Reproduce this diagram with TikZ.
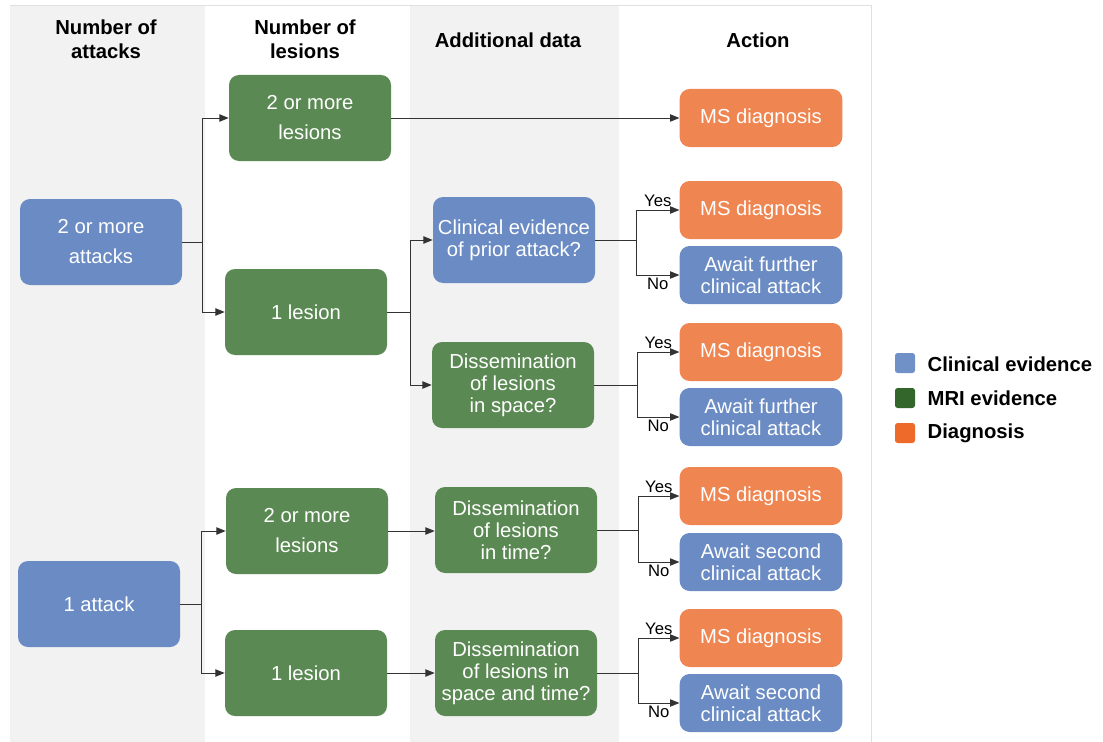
\documentclass[tikz,border=0pt]{standalone}
\usepackage{fontspec}
\setmainfont{Liberation Sans}
\usepackage{tikz}
\usetikzlibrary{arrows.meta}
\usepackage{xcolor}

\definecolor{clinblue}{HTML}{6A8BC3}
\definecolor{mrigreen}{HTML}{5B8953}
\definecolor{diagorange}{HTML}{EF8550}
\definecolor{keyblue}{HTML}{7090C8}
\definecolor{keygreen}{HTML}{33662B}
\definecolor{keyorange}{HTML}{EE6A2A}
\definecolor{colgray}{HTML}{F2F2F2}

\tikzset{
  box/.style={rounded corners=7.5pt, text=white, align=center, inner sep=0pt,
    font=\fontsize{15.2pt}{16.5pt}\selectfont},
  bigbox/.style={box, minimum width=121.5pt, minimum height=64.5pt},
  actbox/.style={box, minimum width=122pt, minimum height=43.5pt},
  clin/.style={fill=clinblue},
  mri/.style={fill=mrigreen},
  diag/.style={fill=diagorange},
  head/.style={align=center, font=\bfseries\fontsize{15.2pt}{18pt}\selectfont},
  conn/.style={draw=black!80, line width=0.75pt, -{Triangle[length=7pt,width=5.5pt]}},
  yes/.style={pos=0.75, above=1pt, inner sep=1pt, font=\fontsize{12.5pt}{12.5pt}\selectfont},
  no/.style={pos=0.75, below=1pt, inner sep=1pt, font=\fontsize{12.5pt}{12.5pt}\selectfont},
  keytext/.style={anchor=west, font=\bfseries\fontsize{15.2pt}{16pt}\selectfont}
}

\begin{document}
\begin{tikzpicture}[x=0.75pt,y=0.75pt,yscale=-1,xscale=1]
\useasboundingbox (0,0) rectangle (1103,742);

%Shape: columns
\fill[white] (0,0) rectangle (1103,742);
\fill[colgray] (10,5) rectangle (205,742);
\fill[colgray] (410,5) rectangle (619,742);
\draw[black!12] (10,5) -- (871,5) -- (871,742);

% Text Node: headers
\node[head] (h1) at (106,39) {Number of\\attacks};
\node[head] (h2) at (305,39) {Number of\\lesions};
\node[head] (h3) at (508,40) {Additional data};
\node[head] (h4) at (758,40) {Action};

%Shape: attacks
\node[bigbox, clin] (a2) at (101,242) {2 or more\\[6pt]attacks};
\node[bigbox, clin] (a1) at (99,604) {1 attack};

%Shape: lesions
\node[bigbox, mri] (les2a) at (310,118) {2 or more\\[6pt]lesions};
\node[bigbox, mri] (les1a) at (306,312) {1 lesion};
\node[bigbox, mri] (les2b) at (307,531) {2 or more\\[6pt]lesions};
\node[bigbox, mri] (les1b) at (306,673) {1 lesion};

%Shape: additional data
\node[bigbox, clin] (prior) at (514,240) {Clinical evidence\\of prior attack?};
\node[bigbox, mri] (space) at (513,385) {Dissemination\\of lesions\\in space?};
\node[bigbox, mri] (time) at (516,530) {Dissemination\\of lesions\\in time?};
\node[bigbox, mri] (spacetime) at (516,673) {Dissemination\\of lesions in\\space and time?};

%Shape: actions
\node[actbox, diag] (ms1) at (761,118) {MS diagnosis};
\node[actbox, diag] (ms2) at (761,210) {MS diagnosis};
\node[actbox, clin] (await2) at (761,275) {Await further\\clinical attack};
\node[actbox, diag] (ms3) at (761,352) {MS diagnosis};
\node[actbox, clin] (await3) at (761,417) {Await further\\clinical attack};
\node[actbox, diag] (ms4) at (761,496) {MS diagnosis};
\node[actbox, clin] (await4) at (761,562) {Await second\\clinical attack};
\node[actbox, diag] (ms5) at (761,638) {MS diagnosis};
\node[actbox, clin] (await5) at (761,703) {Await second\\clinical attack};

%Straight Lines: 2 or more attacks
\draw[conn] (a2.east) -- ++(20,0) |- (les2a.west);
\draw[conn] (a2.east) -- ++(20,0) |- (les1a.west);
\draw[conn] (les2a.east) -- (ms1.west);
\draw[conn] (les1a.east) -- ++(23,0) |- (prior.west);
\draw[conn] (les1a.east) -- ++(23,0) |- (space.west);

%Straight Lines: 1 attack
\draw[conn] (a1.east) -- ++(21,0) |- (les2b.west);
\draw[conn] (a1.east) -- ++(21,0) |- (les1b.west);
\draw[conn] (les2b.east) -- (les2b.east -| time.west);
\draw[conn] (les1b.east) -- (spacetime.west);

%Straight Lines: yes / no
\draw[conn] (prior.east) -- ++(41,0) |- node[yes]{Yes} (ms2.west);
\draw[conn] (prior.east) -- ++(41,0) |- node[no]{No} (await2.west);
\draw[conn] (space.east) -- ++(43,0) |- node[yes]{Yes} (ms3.west);
\draw[conn] (space.east) -- ++(43,0) |- node[no]{No} (await3.west);
\draw[conn] (time.east) -- ++(41,0) |- node[yes]{Yes} (ms4.west);
\draw[conn] (time.east) -- ++(41,0) |- node[no]{No} (await4.west);
\draw[conn] (spacetime.east) -- ++(41,0) |- node[yes]{Yes} (ms5.west);
\draw[conn] (spacetime.east) -- ++(41,0) |- node[no]{No} (await5.west);

%Shape: legend
\fill[keyblue, rounded corners=2pt] (895,353) rectangle (915,373);
\fill[keygreen, rounded corners=2pt] (895,388) rectangle (915,408);
\fill[keyorange, rounded corners=2pt] (895,423) rectangle (915,443);
\node[keytext] (k1) at (923,364) {Clinical evidence};
\node[keytext] (k2) at (923,398) {MRI evidence};
\node[keytext] (k3) at (923,433) {Diagnosis};
\end{tikzpicture}
\end{document}
